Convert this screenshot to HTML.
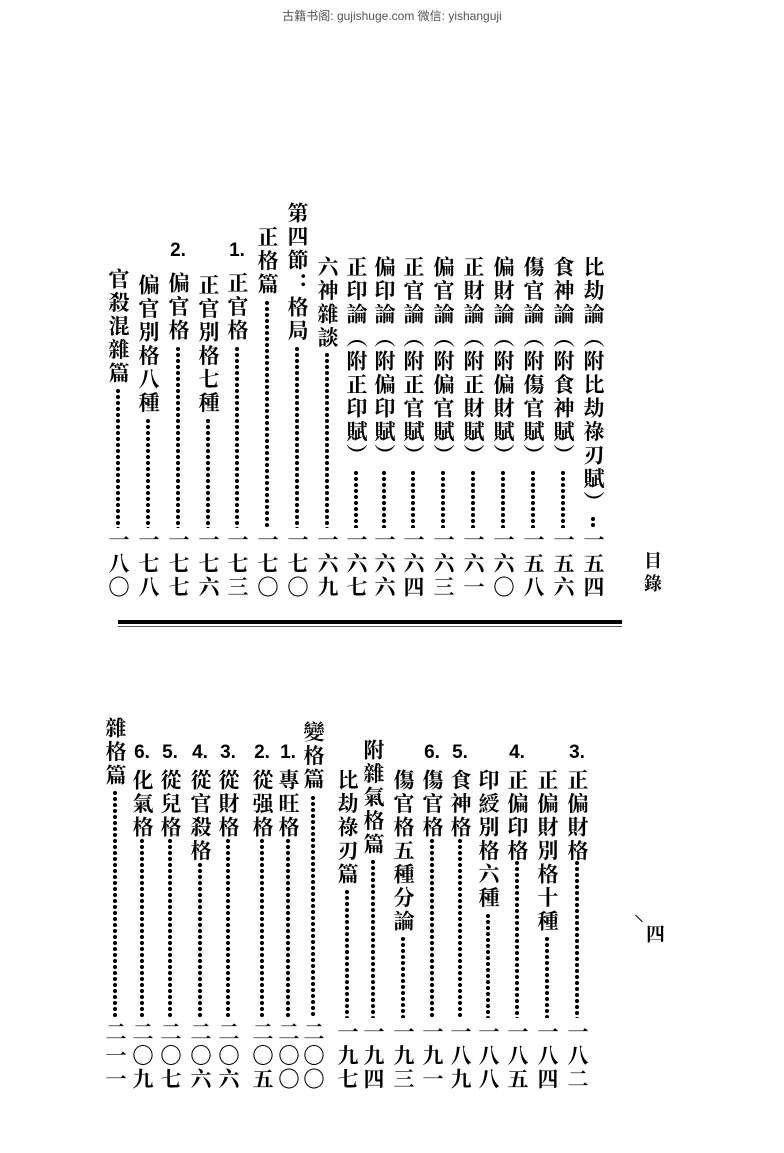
<!DOCTYPE html>
<html><head><meta charset="utf-8">
<style>
html,body{margin:0;padding:0;background:#fff;}
body{width:784px;height:1153px;position:relative;overflow:hidden;font-family:"Liberation Serif","Noto Serif CJK SC","Noto Sans CJK TC",serif;color:#000;}
.c{position:absolute;writing-mode:vertical-rl;font-size:21px;letter-spacing:2.5px;line-height:22px;width:22px;font-weight:700;white-space:nowrap;}
.d{position:absolute;width:6px;background:radial-gradient(circle at 3px 3px,#000 1.8px,transparent 2.3px);background-size:6px 6px;}
.n{position:absolute;font-family:"Liberation Sans",sans-serif;font-weight:700;font-size:19px;width:30px;text-align:center;}
</style></head><body>
<div style="position:absolute;top:7px;left:0;width:784px;text-align:center;font-size:12px;color:#555;font-family:'Liberation Sans','Noto Sans CJK SC',sans-serif;">古籍书阁: gujishuge.com 微信: yishanguji</div>

<!-- header -->
<div class="c" style="left:641px;top:551px;font-size:18px;">目</div>
<div class="c" style="left:641px;top:574px;font-size:18px;">錄</div>
<div style="position:absolute;left:118px;top:620px;width:504px;height:4px;background:#000;"></div>
<div style="position:absolute;left:118px;top:626px;width:504px;height:1px;background:#555;"></div>
<div class="c" style="left:642px;top:924px;font-size:19px;">四</div>
<div style="position:absolute;left:634px;top:918px;width:10px;height:1px;background:#000;transform:rotate(45deg);"></div>

<!-- upper -->
<div class="c" style="left:582px;top:256px;">比劫論（附比劫祿刃賦）</div><div class="d" style="left:590px;top:516px;height:12px;"></div><div class="c" style="left:582px;top:529px;">一五四</div>
<div class="c" style="left:552px;top:256px;">食神論（附食神賦）</div><div class="d" style="left:560px;top:470px;height:58px;"></div><div class="c" style="left:552px;top:529px;">一五六</div>
<div class="c" style="left:522px;top:256px;">傷官論（附傷官賦）</div><div class="d" style="left:530px;top:470px;height:58px;"></div><div class="c" style="left:522px;top:529px;">一五八</div>
<div class="c" style="left:492px;top:256px;">偏財論（附偏財賦）</div><div class="d" style="left:500px;top:470px;height:58px;"></div><div class="c" style="left:492px;top:529px;">一六〇</div>
<div class="c" style="left:462px;top:256px;">正財論（附正財賦）</div><div class="d" style="left:470px;top:470px;height:58px;"></div><div class="c" style="left:462px;top:529px;">一六一</div>
<div class="c" style="left:432px;top:256px;">偏官論（附偏官賦）</div><div class="d" style="left:440px;top:470px;height:58px;"></div><div class="c" style="left:432px;top:529px;">一六三</div>
<div class="c" style="left:402px;top:256px;">正官論（附正官賦）</div><div class="d" style="left:410px;top:470px;height:58px;"></div><div class="c" style="left:402px;top:529px;">一六四</div>
<div class="c" style="left:373px;top:256px;">偏印論（附偏印賦）</div><div class="d" style="left:381px;top:470px;height:58px;"></div><div class="c" style="left:373px;top:529px;">一六六</div>
<div class="c" style="left:345px;top:256px;">正印論（附正印賦）</div><div class="d" style="left:353px;top:470px;height:58px;"></div><div class="c" style="left:345px;top:529px;">一六七</div>
<div class="c" style="left:316px;top:256px;">六神雜談</div><div class="d" style="left:324px;top:352px;height:176px;"></div><div class="c" style="left:316px;top:529px;">一六九</div>
<div class="c" style="left:286px;top:202px;">第四節：格局</div><div class="d" style="left:294px;top:346px;height:182px;"></div><div class="c" style="left:286px;top:529px;">一七〇</div>
<div class="c" style="left:256px;top:226px;">正格篇</div><div class="d" style="left:264px;top:300px;height:228px;"></div><div class="c" style="left:256px;top:529px;">一七〇</div>
<div class="n" style="left:222px;top:240px;">1.</div><div class="c" style="left:226px;top:272px;">正官格</div><div class="d" style="left:234px;top:346px;height:182px;"></div><div class="c" style="left:226px;top:529px;">一七三</div>
<div class="c" style="left:197px;top:274px;">正官別格七種</div><div class="d" style="left:205px;top:418px;height:110px;"></div><div class="c" style="left:197px;top:529px;">一七六</div>
<div class="n" style="left:163px;top:240px;">2.</div><div class="c" style="left:167px;top:272px;">偏官格</div><div class="d" style="left:175px;top:346px;height:182px;"></div><div class="c" style="left:167px;top:529px;">一七七</div>
<div class="c" style="left:137px;top:274px;">偏官別格八種</div><div class="d" style="left:145px;top:418px;height:110px;"></div><div class="c" style="left:137px;top:529px;">一七八</div>
<div class="c" style="left:107px;top:268px;">官殺混雜篇</div><div class="d" style="left:115px;top:388px;height:140px;"></div><div class="c" style="left:107px;top:529px;">一八〇</div>

<!-- lower -->
<div class="n" style="left:562px;top:742px;">3.</div><div class="c" style="left:566px;top:769px;">正偏財格</div><div class="d" style="left:574px;top:860px;height:158px;"></div><div class="c" style="left:566px;top:1021px;">一八二</div>
<div class="c" style="left:536px;top:769px;">正偏財別格十種</div><div class="d" style="left:544px;top:936px;height:82px;"></div><div class="c" style="left:536px;top:1021px;">一八四</div>
<div class="n" style="left:502px;top:742px;">4.</div><div class="c" style="left:506px;top:769px;">正偏印格</div><div class="d" style="left:514px;top:860px;height:158px;"></div><div class="c" style="left:506px;top:1021px;">一八五</div>
<div class="c" style="left:477px;top:769px;">印綬別格六種</div><div class="d" style="left:485px;top:913px;height:105px;"></div><div class="c" style="left:477px;top:1021px;">一八八</div>
<div class="n" style="left:445px;top:742px;">5.</div><div class="c" style="left:449px;top:769px;">食神格</div><div class="d" style="left:457px;top:838px;height:180px;"></div><div class="c" style="left:449px;top:1021px;">一八九</div>
<div class="n" style="left:417px;top:742px;">6.</div><div class="c" style="left:421px;top:769px;">傷官格</div><div class="d" style="left:429px;top:838px;height:180px;"></div><div class="c" style="left:421px;top:1021px;">一九一</div>
<div class="c" style="left:392px;top:769px;">傷官格五種分論</div><div class="d" style="left:400px;top:936px;height:82px;"></div><div class="c" style="left:392px;top:1021px;">一九三</div>
<div class="c" style="left:362px;top:739px;">附雜氣格篇</div><div class="d" style="left:370px;top:859px;height:159px;"></div><div class="c" style="left:362px;top:1021px;">一九四</div>
<div class="c" style="left:336px;top:769px;">比劫祿刃篇</div><div class="d" style="left:344px;top:889px;height:129px;"></div><div class="c" style="left:336px;top:1021px;">一九七</div>
<div class="c" style="left:302px;top:721px;">變格篇</div><div class="d" style="left:310px;top:795px;height:223px;"></div><div class="c" style="left:302px;top:1021px;">二〇〇</div>
<div class="n" style="left:273px;top:742px;">1.</div><div class="c" style="left:277px;top:769px;">專旺格</div><div class="d" style="left:285px;top:838px;height:180px;"></div><div class="c" style="left:277px;top:1021px;">二〇〇</div>
<div class="n" style="left:247px;top:742px;">2.</div><div class="c" style="left:251px;top:769px;">從强格</div><div class="d" style="left:259px;top:838px;height:180px;"></div><div class="c" style="left:251px;top:1021px;">二〇五</div>
<div class="n" style="left:213px;top:742px;">3.</div><div class="c" style="left:217px;top:769px;">從財格</div><div class="d" style="left:225px;top:838px;height:180px;"></div><div class="c" style="left:217px;top:1021px;">二〇六</div>
<div class="n" style="left:185px;top:742px;">4.</div><div class="c" style="left:189px;top:769px;">從官殺格</div><div class="d" style="left:197px;top:862px;height:156px;"></div><div class="c" style="left:189px;top:1021px;">二〇六</div>
<div class="n" style="left:155px;top:742px;">5.</div><div class="c" style="left:159px;top:769px;">從兒格</div><div class="d" style="left:167px;top:838px;height:180px;"></div><div class="c" style="left:159px;top:1021px;">二〇七</div>
<div class="n" style="left:127px;top:742px;">6.</div><div class="c" style="left:131px;top:769px;">化氣格</div><div class="d" style="left:139px;top:838px;height:180px;"></div><div class="c" style="left:131px;top:1021px;">二〇九</div>
<div class="c" style="left:104px;top:717px;">雜格篇</div><div class="d" style="left:112px;top:790px;height:228px;"></div><div class="c" style="left:104px;top:1021px;">二一一</div>
</body></html>
